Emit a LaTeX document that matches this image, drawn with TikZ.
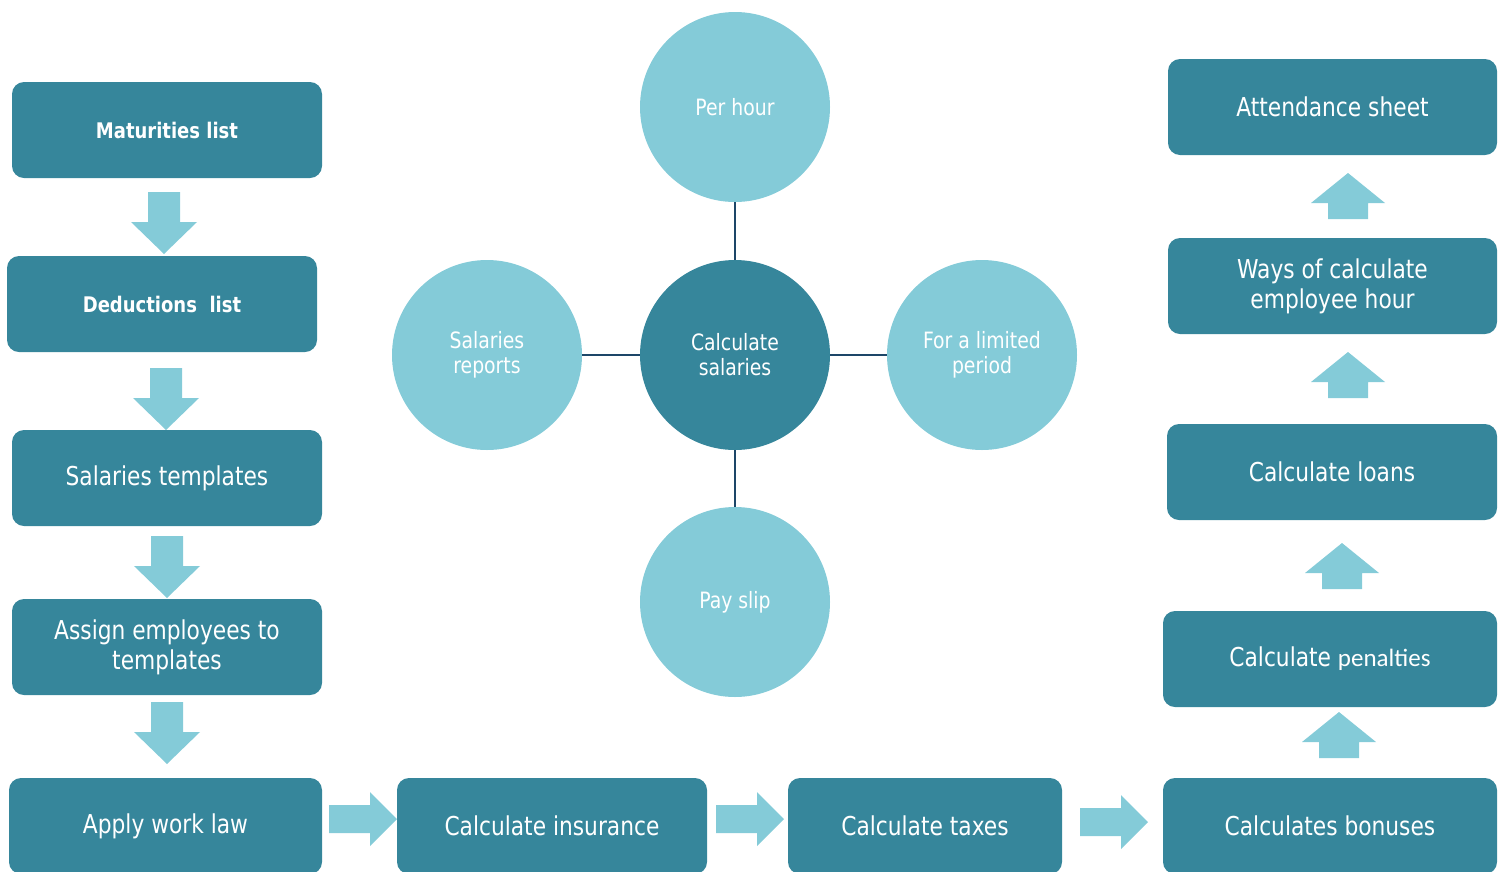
\documentclass[tikz,border=0pt]{standalone}
\usepackage{fontspec}
\setmainfont{DejaVu Sans Condensed}[FakeStretch=0.93]
\newfontfamily\calfont{Carlito}
\usepackage{tikz}
\usetikzlibrary{calc}

\definecolor{boxteal}{RGB}{54,134,155}
\definecolor{lightteal}{RGB}{132,203,216}
\definecolor{spokenavy}{RGB}{29,70,104}

\begin{document}
\begin{tikzpicture}[x=1pt,y=-1pt]
\tikzset{
    stepbox/.style={
        rectangle, rounded corners=12pt, fill=boxteal, text=white,
        minimum width=310pt, minimum height=96pt, inner sep=0pt,
        align=center, font=\fontsize{26}{30}\selectfont
    },
    boldbox/.style={stepbox, font=\fontsize{21.5}{24}\selectfont\bfseries},
    bubble/.style={
        circle, minimum size=190pt, inner sep=0pt, fill=lightteal,
        text=white, align=center, font=\fontsize{22.5}{25}\selectfont
    },
    hub/.style={bubble, fill=boxteal},
    spoke/.style={draw=spokenavy, line width=2.5pt},
    downarr/.pic={
        \fill[lightteal] (-16,-31) -- (16,-31) -- (16,-1) -- (33,-1)
        -- (0,31) -- (-33,-1) -- (-16,-1) -- cycle;
    },
    uparr/.pic={
        \fill[lightteal] (0,-23) -- (37,7) -- (20,7) -- (20,23)
        -- (-20,23) -- (-20,7) -- (-37,7) -- cycle;
    },
    rightarr/.pic={
        \fill[lightteal] (-34,-14) -- (7,-14) -- (7,-27) -- (34,0)
        -- (7,27) -- (7,14) -- (-34,14) -- cycle;
    },
}
\useasboundingbox (0,0) rectangle (1500,871);

% left column
\node[boldbox] (mat) at (167,130) {Maturities list};
\node[boldbox] (ded) at (162,304) {Deductions\ \ list};
\node[stepbox] (tmp) at (167,478) {Salaries templates};
\node[stepbox] (asg) at (167,647) {Assign employees to\\templates};

% bottom row
\node[stepbox, minimum width=313pt] (law) at (165.5,826) {Apply work law};
\node[stepbox] (ins) at (552,826) {Calculate insurance};
\node[stepbox, minimum width=274pt] (tax) at (925,826) {Calculate taxes};
\node[stepbox, minimum width=334pt] (bon) at (1330,826) {Calculates bonuses};

% right column
\node[stepbox, minimum width=334pt] (pen) at (1330,659)
    {Calculate {\calfont\fontsize{25}{30}\selectfont penalties}};
\node[stepbox, minimum width=330pt] (loa) at (1332,472) {Calculate loans};
\node[stepbox, minimum width=329pt] (way) at (1332.5,286) {Ways of calculate\\employee hour};
\node[stepbox, minimum width=329pt] (att) at (1332.5,107) {Attendance sheet};

% block arrows
\pic at (164,223) {downarr};
\pic at (166,399) {downarr};
\pic at (167,567) {downarr};
\pic at (167,733) {downarr};
\pic at (363,819) {rightarr};
\pic at (750,819) {rightarr};
\pic at (1114,822) {rightarr};
\pic at (1339,735) {uparr};
\pic at (1342,566) {uparr};
\pic at (1348,375) {uparr};
\pic at (1348,196) {uparr};

% centre
\node[hub] (cal) at (735,355) {Calculate\\salaries};
\node[bubble] (per) at (735,107) {Per hour};
\node[bubble] (rep) at (487,355) {Salaries\\reports};
\node[bubble] (lim) at (982,355) {For a limited\\period};
\node[bubble] (pay) at (735,602) {Pay slip};
\draw[spoke] (cal) -- (per);
\draw[spoke] (cal) -- (rep);
\draw[spoke] (cal) -- (lim);
\draw[spoke] (cal) -- (pay);

\end{tikzpicture}
\end{document}
